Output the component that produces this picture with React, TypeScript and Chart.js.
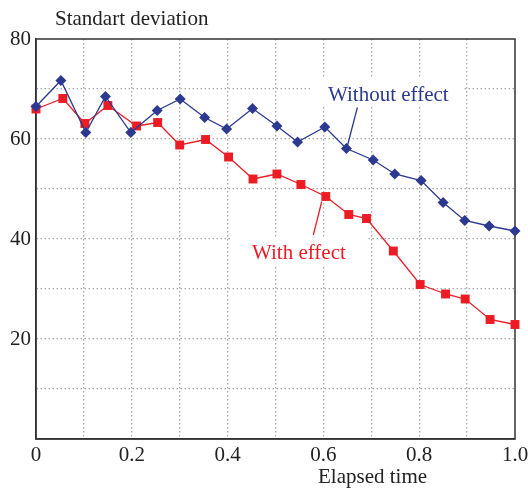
import { useEffect, useRef } from "react";
import { Chart, registerables } from "chart.js";

Chart.register(...registerables);

const FONT = '"Liberation Serif", "Times New Roman", serif';

// ---- data ----
const timeWithout = [0, 0.052, 0.104, 0.145, 0.198, 0.253, 0.301, 0.352, 0.398, 0.452, 0.503, 0.546, 0.603, 0.648, 0.704, 0.749, 0.804, 0.85, 0.895, 0.946, 1.0];
const withoutEffect = [66.5, 71.7, 61.3, 68.5, 61.3, 65.7, 68.0, 64.3, 62.0, 66.1, 62.6, 59.4, 62.4, 58.1, 55.8, 53.0, 51.7, 47.3, 43.7, 42.6, 41.6];
const timeWith = [0, 0.056, 0.102, 0.15, 0.21, 0.254, 0.3, 0.354, 0.402, 0.453, 0.503, 0.553, 0.605, 0.653, 0.69, 0.746, 0.802, 0.855, 0.896, 0.948, 1.0];
const withEffect = [66.0, 68.1, 63.1, 66.7, 62.6, 63.3, 58.8, 59.9, 56.4, 52.0, 53.0, 50.9, 48.5, 44.9, 44.1, 37.6, 30.9, 29.0, 28.0, 23.9, 22.9];

const xTickLabels = ["0", "0.2", "0.4", "0.6", "0.8", "1.0"];
const yTickLabels = ["20", "40", "60", "80"];

const yAxisTitle = "Standart deviation";
const xAxisTitle = "Elapsed time";

const BLUE = "#2b3990";
const RED = "#ed1c24";

// annotations in data coordinates
const annotations = [
  {
    text: "Without effect",
    color: BLUE,
    textAt: [0.6096, 67.6],
    box: [0.574, 72.4, 0.891, 66.6],
    leader: [[0.671, 66.34], [0.65, 58.6]],
  },
  {
    text: "With effect",
    color: RED,
    textAt: [0.451, 36.0],
    box: [0.407, 40.2, 0.691, 34.8],
    leader: [[0.5965, 47.46], [0.579, 40.8]],
  },
];

const decorPlugin = {
  id: "decor",
  beforeDatasetsDraw(chart: any) {
    const { ctx, chartArea } = chart;
    const xs = chart.scales.x;
    const ys = chart.scales.y;
    ctx.save();
    ctx.fillStyle = "#ffffff";
    for (const a of annotations) {
      const x1 = xs.getPixelForValue(a.box[0]);
      const y1 = ys.getPixelForValue(a.box[1]);
      const x2 = xs.getPixelForValue(a.box[2]);
      const y2 = ys.getPixelForValue(a.box[3]);
      ctx.fillRect(x1, y1, x2 - x1, y2 - y1);
    }
    ctx.strokeStyle = "#333333";
    ctx.lineWidth = 1.5;
    ctx.strokeRect(chartArea.left, chartArea.top, chartArea.right - chartArea.left, chartArea.bottom - chartArea.top);
    ctx.restore();
  },
  afterDatasetsDraw(chart: any) {
    const { ctx, chartArea } = chart;
    const xs = chart.scales.x;
    const ys = chart.scales.y;
    ctx.save();
    ctx.font = `21px ${FONT}`;
    ctx.textBaseline = "alphabetic";
    ctx.textAlign = "left";
    for (const a of annotations) {
      ctx.fillStyle = a.color;
      ctx.fillText(a.text, xs.getPixelForValue(a.textAt[0]), ys.getPixelForValue(a.textAt[1]));
      ctx.strokeStyle = a.color;
      ctx.lineWidth = 1.3;
      ctx.beginPath();
      ctx.moveTo(xs.getPixelForValue(a.leader[0][0]), ys.getPixelForValue(a.leader[0][1]));
      ctx.lineTo(xs.getPixelForValue(a.leader[1][0]), ys.getPixelForValue(a.leader[1][1]));
      ctx.stroke();
    }
    ctx.fillStyle = "#222222";
    ctx.font = `21px ${FONT}`;
    ctx.fillText(yAxisTitle, chartArea.left + 19, chartArea.top - 14);
    ctx.fillText(xAxisTitle, chartArea.left + 282, chartArea.bottom + 44);
    ctx.restore();
  },
};

export default function App() {
  const ref = useRef<HTMLCanvasElement>(null);
  useEffect(() => {
    const gridColor = (edgeA: number, edgeB: number) => (c: any) => {
      const v = c.tick ? c.tick.value : null;
      if (v === null) return "#a8a8a8";
      if (Math.abs(v - edgeA) < 1e-6 || Math.abs(v - edgeB) < 1e-6) return "rgba(0,0,0,0)";
      return "#a8a8a8";
    };
    const chart = new Chart(ref.current!, {
      type: "line",
      data: {
        datasets: [
          {
            label: "Without effect",
            data: timeWithout.map((t, i) => ({ x: t, y: withoutEffect[i] })),
            borderColor: BLUE,
            backgroundColor: BLUE,
            borderWidth: 1.3,
            pointStyle: "rectRot",
            pointRadius: 5.5,
            pointBorderWidth: 0,
            clip: false,
          } as any,
          {
            label: "With effect",
            data: timeWith.map((t, i) => ({ x: t, y: withEffect[i] })),
            borderColor: RED,
            backgroundColor: RED,
            borderWidth: 1.3,
            pointStyle: "rect",
            pointRadius: 6.3,
            pointBorderWidth: 0,
            clip: false,
          } as any,
        ],
      },
      options: {
        animation: false,
        responsive: true,
        maintainAspectRatio: false,
        layout: { padding: { top: 39, right: 13, left: 0, bottom: 0 } },
        plugins: { legend: { display: false }, tooltip: { enabled: false }, title: { display: false } },
        scales: {
          x: {
            type: "linear",
            min: 0,
            max: 1,
            afterFit: (s: any) => {
              s.height = 52;
              s.paddingLeft = 0;
              s.paddingRight = 0;
            },
            ticks: {
              stepSize: 0.1,
              autoSkip: false,
              maxRotation: 0,
              padding: 4,
              color: "#222222",
              font: { family: FONT, size: 21 },
              callback: (v: any) => {
                const k = Math.round(Number(v) * 10);
                return k % 2 === 0 ? xTickLabels[k / 2] : "";
              },
            },
            grid: { color: gridColor(0, 1), lineWidth: 1.3, drawTicks: false },
            border: { display: true, color: "#333333", width: 1.5, dash: [1.5, 2.5] },
          },
          y: {
            type: "linear",
            min: 0,
            max: 80,
            afterFit: (s: any) => {
              s.width = 36;
              s.paddingTop = 0;
              s.paddingBottom = 0;
            },
            ticks: {
              stepSize: 10,
              autoSkip: false,
              padding: 5,
              color: "#222222",
              font: { family: FONT, size: 21 },
              callback: (v: any) => {
                const n = Math.round(Number(v));
                return n > 0 && n % 20 === 0 ? yTickLabels[n / 20 - 1] : "";
              },
            },
            grid: { color: gridColor(0, 80), lineWidth: 1.3, drawTicks: false },
            border: { display: true, color: "#333333", width: 1.5, dash: [1.5, 2.5] },
          },
        },
      },
      plugins: [decorPlugin],
    });
    return () => chart.destroy();
  }, []);
  return (
    <div style={{ position: "absolute", left: 0, top: 0, width: 528, height: 491, background: "#ffffff" }}>
      <canvas ref={ref} />
    </div>
  );
}
